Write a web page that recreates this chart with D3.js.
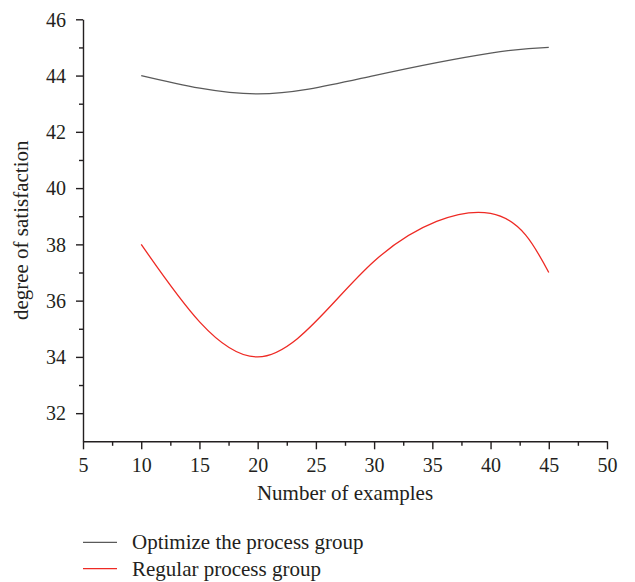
<!DOCTYPE html>
<html>
<head>
<meta charset="utf-8">
<script src="https://cdn.jsdelivr.net/npm/d3@7"></script>
<style>
  body { margin: 0; background: #fff; }
  svg text { font-family: "Liberation Serif", "DejaVu Serif", "Times New Roman", serif !important; fill: #231f20; }
</style>
</head>
<body>
<div id="chart"></div>
<script>
// --- DATA ---
const examples = [10, 20, 30, 40, 45];
const optimizeGroup = [44.0, 43.35, 44.0, 44.8, 45.0];
const regularGroup = [38.0, 34.0, 37.4, 39.1, 37.0];
const seriesNames = ["Optimize the process group", "Regular process group"];
const seriesColors = ["#5a5a5a", "#ee2a24"];
const xTicks = [5, 10, 15, 20, 25, 30, 35, 40, 45, 50];
const yTicks = [32, 34, 36, 38, 40, 42, 44, 46];

// --- LAYOUT ---
const width = 635, height = 582;
const plot = {left: 83, right: 607, top: 19.3, bottom: 441.3};
const tickFont = 20, titleFont = 21;

const svg = d3.select("#chart").append("svg")
    .attr("width", width)
    .attr("height", height);

const x = d3.scaleLinear().domain([5, 50]).range([plot.left, plot.right]);
const y = d3.scaleLinear().domain([31, 46]).range([plot.bottom, plot.top]);

// axe x : ticks majeurs + mineurs
svg.append("g")
    .attr("transform", `translate(0,${plot.bottom})`)
    .call(d3.axisBottom(x).tickValues(xTicks).tickSize(8).tickPadding(9).tickSizeOuter(0));
svg.append("g")
    .attr("transform", `translate(0,${plot.bottom})`)
    .call(d3.axisBottom(x).tickValues(d3.range(7.5, 50, 5)).tickSize(4.5).tickFormat("").tickSizeOuter(0))
    .call(g => g.select(".domain").remove());

// axe y
const yAxis = svg.append("g")
    .attr("transform", `translate(${plot.left},0)`)
    .call(d3.axisLeft(y).tickValues(yTicks).tickSize(7).tickPadding(10).tickSizeOuter(0));
svg.append("g")
    .attr("transform", `translate(${plot.left},0)`)
    .call(d3.axisLeft(y).tickValues(d3.range(33, 46, 2)).tickSize(4).tickFormat("").tickSizeOuter(0))
    .call(g => g.select(".domain").remove());

svg.selectAll(".domain, .tick line")
    .attr("stroke", "#231f20")
    .attr("stroke-width", 1.4);
svg.selectAll(".tick text")
    .attr("font-size", tickFont);
yAxis.selectAll(".tick text").attr("dy", "0.34em");

// titres des axes
svg.append("text")
    .attr("x", 345)
    .attr("y", 500)
    .attr("text-anchor", "middle")
    .attr("font-size", titleFont)
    .text("Number of examples");

svg.append("text")
    .attr("transform", `translate(28,${(plot.top + plot.bottom) / 2}) rotate(-90)`)
    .attr("text-anchor", "middle")
    .attr("font-size", titleFont)
    .text("degree of satisfaction");

// courbes
const line = d3.line()
    .x(d => x(d[0]))
    .y(d => y(d[1]))
    .curve(d3.curveNatural);

[optimizeGroup, regularGroup].forEach((values, i) => {
    svg.append("path")
        .datum(examples.map((e, k) => [e, values[k]]))
        .attr("fill", "none")
        .attr("stroke", seriesColors[i])
        .attr("stroke-width", 1.3)
        .attr("d", line);
});

// légende
const legend = svg.append("g");
seriesNames.forEach((name, i) => {
    const ly = 542.3 + i * 26.4;
    legend.append("line")
        .attr("x1", 83).attr("x2", 117)
        .attr("y1", ly).attr("y2", ly)
        .attr("stroke", seriesColors[i])
        .attr("stroke-width", 1.3);
    legend.append("text")
        .attr("x", 132)
        .attr("y", ly + 7)
        .attr("font-size", titleFont)
        .text(name);
});
</script>
</body>
</html>
